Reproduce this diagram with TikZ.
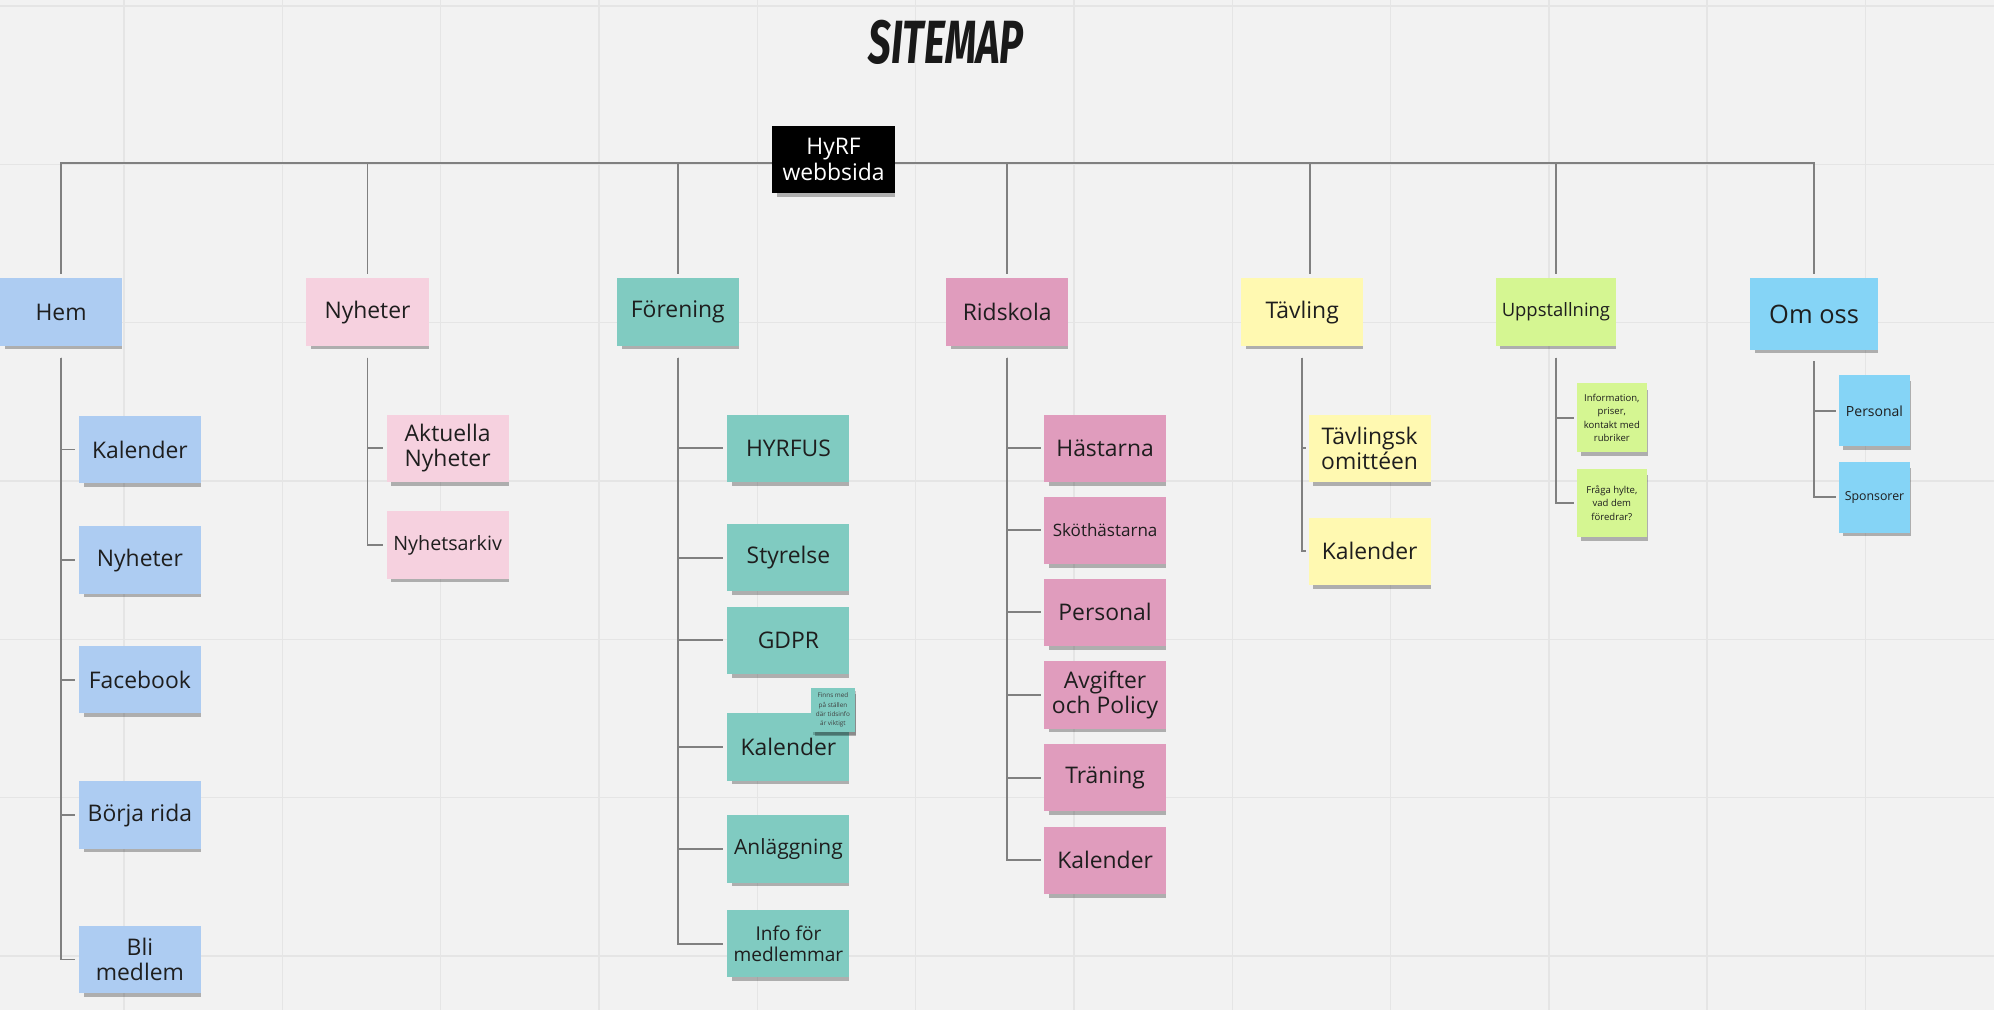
\documentclass[tikz,border=0pt]{standalone}
\usepackage{fontspec}
\setmainfont{Open Sans}
\newfontfamily\titlefont{Fira Sans}
\usetikzlibrary{shadows}
\definecolor{bgc}{RGB}{242,242,242}
\definecolor{gridc}{RGB}{229,229,229}
\definecolor{conc}{RGB}{128,128,128}
\definecolor{txt}{RGB}{30,30,30}
\definecolor{cblue}{RGB}{173,204,242}
\definecolor{cpink}{RGB}{246,209,223}
\definecolor{cteal}{RGB}{128,203,193}
\definecolor{crose}{RGB}{224,156,189}
\definecolor{cyellow}{RGB}{255,249,177}
\definecolor{cgreen}{RGB}{213,246,146}
\definecolor{ccyan}{RGB}{133,212,246}
\pgfdeclarelayer{gridlayer}
\pgfdeclarelayer{linelayer}
\pgfsetlayers{gridlayer,linelayer,main}
\begin{document}
\begin{tikzpicture}[x=1pt,y=-1pt,
  note/.style={rectangle, inner sep=0pt, align=center, text=txt,
    minimum width=96pt, minimum height=53pt,
    drop shadow={shadow xshift=2pt,shadow yshift=-4pt,shadow scale=0.96,opacity=0.28,fill=black}},
  fs/.style 2 args={font=\fontsize{#1}{#2}\selectfont},
  con/.style={draw=conc, line width=1.5pt},
  gridline/.style={draw=gridc, line width=1.2pt}]
\useasboundingbox (0,0) rectangle (1568,794);
\begin{pgfonlayer}{gridlayer}
\fill[bgc] (0,0) rectangle (1568,794);
\foreach \i in {0,...,11} \draw[gridline] ({97.5+124.5*\i},0) -- ({97.5+124.5*\i},794);
\foreach \j in {0,...,6} \draw[gridline] (0,{4.7+124.5*\j}) -- (1568,{4.7+124.5*\j});
\end{pgfonlayer}

% title
\node[font=\titlefont\bfseries\itshape\fontsize{48}{48}\selectfont, text=black!90, inner sep=0pt] (title) at (744,33) {\scalebox{0.66}[1]{SITEMAP}};

% root
\node[note, fill=black, text=white, fs={18}{20}, minimum width=97pt] (root) at (655.5,125.5) {HyRF\\webbsida};
\coordinate (bus) at (655.5,128);

% level 1
\node[note, fill=cblue, fs={18}{20}] (hem) at (48,245.5) {Hem};
\node[note, fill=cpink, fs={18}{20}] (nyh) at (289,245.5) {Nyheter};
\node[note, fill=cteal, fs={18}{20}] (for) at (533,245.5) {Förening};
\node[note, fill=crose, fs={18}{20}] (rid) at (792,245.5) {Ridskola};
\node[note, fill=cyellow, fs={18}{20}] (tav) at (1024,245.5) {Tävling};
\node[note, fill=cgreen, fs={14.5}{16}, minimum width=95pt] (upp) at (1223.5,245.5) {Uppstallning};
\node[note, fill=ccyan, fs={20}{22}, minimum width=101pt, minimum height=56pt] (om) at (1426.5,247) {Om oss};

% Hem children
\node[note, fill=cblue, fs={18}{20}] (h1) at (110,353.5) {Kalender};
\node[note, fill=cblue, fs={18}{20}] (h2) at (110,440.5) {Nyheter};
\node[note, fill=cblue, fs={18}{20}] (h3) at (110,534.5) {Facebook};
\node[note, fill=cblue, fs={18}{20}] (h4) at (110,641) {Börja rida};
\node[note, fill=cblue, fs={18}{20}] (h5) at (110,754.5) {Bli\\medlem};

% Nyheter children
\node[note, fill=cpink, fs={18}{20}] (n1) at (352,352.5) {Aktuella\\Nyheter};
\node[note, fill=cpink, fs={15.5}{17}] (n2) at (352,428.5) {Nyhetsarkiv};

% Förening children
\node[note, fill=cteal, fs={18}{20}] (f1) at (620,352.5) {HYRFUS};
\node[note, fill=cteal, fs={18}{20}] (f2) at (620,438.5) {Styrelse};
\node[note, fill=cteal, fs={18}{20}] (f3) at (620,503.5) {GDPR};
\node[note, fill=cteal, fs={18}{20}] (f4) at (620,587.5) {Kalender};
\node[note, fill=cteal, fs={16.5}{18}] (f5) at (620,667.5) {Anläggning};
\node[note, fill=cteal, fs={15}{16.3}] (f6) at (620,742) {Info för\\medlemmar};
\node[note, fill=cteal, text=black!75, fs={5}{7.3}, minimum width=34pt, minimum height=35pt,
  drop shadow={shadow xshift=1pt,shadow yshift=-2pt,opacity=0.2,fill=black}] (fnote) at (655,558.5) {Finns med\\på ställen\\där tidsinfo\\är viktigt};

% Ridskola children
\node[note, fill=crose, fs={18}{20}] (r1) at (869,352.5) {Hästarna};
\node[note, fill=crose, fs={13.4}{15}] (r2) at (869,417) {Sköthästarna};
\node[note, fill=crose, fs={18}{20}] (r3) at (869,481.5) {Personal};
\node[note, fill=crose, fs={18}{20}] (r4) at (869,546.5) {Avgifter\\och Policy};
\node[note, fill=crose, fs={18}{20}] (r5) at (869,611.5) {Träning};
\node[note, fill=crose, fs={18}{20}] (r6) at (869,676.5) {Kalender};

% Tävling children
\node[note, fill=cyellow, fs={18}{20}] (t1) at (1077,352.5) {Tävlingsk\\omittéen};
\node[note, fill=cyellow, fs={18}{20}] (t2) at (1077,433.5) {Kalender};

% Uppstallning children
\node[note, fill=cgreen, fs={7.5}{10.5}, minimum width=55pt, minimum height=54pt] (u1) at (1267.5,328.5) {Information,\\priser,\\kontakt med\\rubriker};
\node[note, fill=cgreen, fs={7.5}{10.5}, minimum width=55pt, minimum height=54pt] (u2) at (1267.5,395.5) {Fråga hylte,\\vad dem\\föredrar?};

% Om oss children
\node[note, fill=ccyan, fs={11}{12}, minimum width=56pt, minimum height=56pt] (o1) at (1474,323) {Personal};
\node[note, fill=ccyan, fs={9.7}{11}, minimum width=56pt, minimum height=56pt] (o2) at (1474,391) {Sponsorer};

\begin{pgfonlayer}{linelayer}
% top bus
\draw[con] (bus) -| ([yshift=3pt]hem.north);
\draw[con] (bus) -| ([yshift=3pt]nyh.north);
\draw[con] (bus) -| ([yshift=3pt]for.north);
\draw[con] (bus) -| ([yshift=3pt]rid.north);
\draw[con] (bus) -| ([xshift=6pt,yshift=3pt]tav.north);
\draw[con] (bus) -| ([yshift=3pt]upp.north);
\draw[con] (bus) -| ([yshift=3pt]om.north);
% Hem
\foreach \c in {h1,h2,h3,h4,h5} \draw[con] ([yshift=-9pt]hem.south) |- ([xshift=-3pt]\c.west);
% Nyheter
\foreach \c in {n1,n2} \draw[con] ([yshift=-9pt]nyh.south) |- ([xshift=-3pt]\c.west);
% Förening
\foreach \c in {f1,f2,f3,f4,f5,f6} \draw[con] ([yshift=-9pt]for.south) |- ([xshift=-3pt]\c.west);
% Ridskola
\foreach \c in {r1,r2,r3,r4,r5,r6} \draw[con] ([yshift=-9pt]rid.south) |- ([xshift=-2pt]\c.west);
% Tävling
\foreach \c in {t1,t2} \draw[con] ([yshift=-9pt]tav.south) |- ([xshift=-2pt]\c.west);
% Uppstallning
\foreach \c in {u1,u2} \draw[con] ([yshift=-9pt]upp.south) |- ([xshift=-2pt]\c.west);
% Om oss
\foreach \c in {o1,o2} \draw[con] ([yshift=-9pt]om.south) |- ([xshift=-2pt]\c.west);
\end{pgfonlayer}
\end{tikzpicture}
\end{document}
